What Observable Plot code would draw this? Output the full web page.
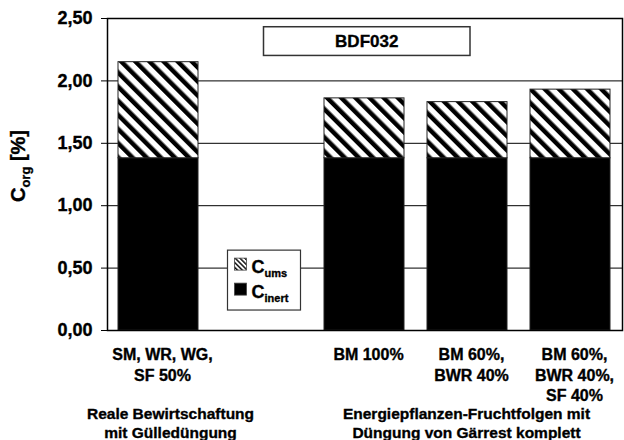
<!DOCTYPE html>
<html><head><meta charset="utf-8">
<script src="https://cdn.jsdelivr.net/npm/d3@7"></script>
<script src="https://cdn.jsdelivr.net/npm/@observablehq/plot@0.6"></script>
<style>body{margin:0;background:#fff} #chart svg{display:block} #chart svg text{stroke:#000;stroke-width:0.35px}</style>
</head><body><div id="chart"></div>
<script>
const categories = ["SM, WR, WG,\nSF 50%", " ", "BM 100%", "BM 60%,\nBWR 40%", "BM 60%,\nBWR 40%,\nSF 40%"];
const cInert = [1.38, null, 1.38, 1.38, 1.38];
const cUms = [0.77, null, 0.48, 0.45, 0.55];
const seriesNames = ["inert", "ums"];
const yTicks = [0, 0.5, 1, 1.5, 2, 2.5];
const gridValues = [0.5, 1, 1.5, 2];
const groupLabels = ["Reale Bewirtschaftung\nmit Gülledüngung", "Energiepflanzen-Fruchtfolgen mit\nDüngung von Gärrest komplett"];
const titleText = "BDF032";

const FONT = "'Liberation Sans', Arial, Helvetica, sans-serif";

const rows = [];
categories.forEach((c, i) => {
  if (cInert[i] != null) rows.push({cat: c, series: "inert", value: cInert[i]});
  if (cUms[i] != null) rows.push({cat: c, series: "ums", value: cUms[i]});
});

const plot = Plot.plot({
  width: 624,
  height: 440,
  marginLeft: 107,
  marginRight: 2,
  marginTop: 18,
  marginBottom: 110,
  style: {fontFamily: FONT, background: "white", color: "black", overflow: "visible"},
  x: {domain: categories, paddingInner: 0.22, paddingOuter: 0.11, axis: null},
  y: {domain: [0, 2.5], axis: null},
  color: {domain: seriesNames, range: ["black", "url(#hatch)"]},
  marks: [
    Plot.ruleY(gridValues, {stroke: "black", strokeWidth: 1}),
    Plot.barY(rows, {x: "cat", y: "value", fill: "series", stroke: "#222", strokeWidth: 1}),
    Plot.frame({stroke: "black", strokeWidth: 1.5}),
    Plot.axisY({ticks: yTicks, tickFormat: d => d.toFixed(2).replace(".", ","), tickSize: 6, tickPadding: 9, fontSize: 18, fontWeight: "bold", label: null}),
    Plot.axisX({tickSize: 0, tickPadding: 15, fontSize: 16, fontWeight: "bold", lineHeight: 1.28, dx: 4, label: null}),
    Plot.text([groupLabels[0]], {x: () => categories[0], text: d => d, frameAnchor: "bottom", dy: 92, dx: 12, lineAnchor: "middle", fontSize: 15.5, fontWeight: "bold", lineHeight: 1.2}),
    Plot.text([groupLabels[1]], {x: () => categories[3], text: d => d, frameAnchor: "bottom", dy: 92, dx: -1, lineAnchor: "middle", fontSize: 15.5, fontWeight: "bold", lineHeight: 1.2})
  ]
});

const svg = d3.select(plot);
const defs = svg.insert("defs", ":first-child");
function hatch(id, period, thick) {
  const p = defs.append("pattern").attr("id", id).attr("patternUnits", "userSpaceOnUse")
    .attr("width", period).attr("height", period).attr("patternTransform", "rotate(-45)");
  p.append("rect").attr("width", period).attr("height", period).attr("fill", "white");
  p.append("rect").attr("width", thick).attr("height", period).attr("fill", "black");
}
hatch("hatch", 10, 4.5);
hatch("hatchSmall", 3.4, 1.4);

const sx = plot.scale("x"), sy = plot.scale("y");
const center = c => sx.apply(c) + sx.bandwidth / 2;

// Y axis title with subscript
const yt = svg.append("text")
  .attr("transform", `translate(25,${(sy.apply(0) + sy.apply(2.5)) / 2 - 8}) rotate(-90)`)
  .attr("text-anchor", "middle").attr("font-size", 20).attr("font-weight", "bold").attr("fill", "black");
yt.append("tspan").text("C");
yt.append("tspan").attr("font-size", 13).attr("dy", 5).text("org");
yt.append("tspan").attr("dy", -5).text(" [%]");

// Title box
const tx0 = center(categories[1]) + 2.5, tx1 = center(categories[3]) + 3;
const ty0 = sy.apply(2.43), ty1 = sy.apply(2.2);
svg.append("rect").attr("x", tx0).attr("y", ty0).attr("width", tx1 - tx0).attr("height", ty1 - ty0)
  .attr("fill", "white").attr("stroke", "#333").attr("stroke-width", 1.5);
svg.append("text").attr("x", (tx0 + tx1) / 2).attr("y", (ty0 + ty1) / 2 + 6)
  .attr("text-anchor", "middle").attr("font-size", 17).attr("font-weight", "bold").text(titleText);

// Legend
const lx = center(categories[1]) - 33.5, ly0 = sy.apply(0.64), ly1 = sy.apply(0.16);
const lg = svg.append("g");
lg.append("rect").attr("x", lx).attr("y", ly0).attr("width", 73).attr("height", ly1 - ly0)
  .attr("fill", "white").attr("stroke", "#333").attr("stroke-width", 1.2);
const legendItems = [["url(#hatchSmall)", "ums"], ["black", "inert"]];
legendItems.forEach(([fill, sub], i) => {
  const yy = ly0 + 8 + i * 25;
  lg.append("rect").attr("x", lx + 7).attr("y", yy).attr("width", 12).attr("height", 12)
    .attr("fill", fill).attr("stroke", "#444").attr("stroke-width", 0.8);
  const t = lg.append("text").attr("x", lx + 24).attr("y", yy + 15).attr("text-anchor", "start")
    .attr("font-size", 18).attr("font-weight", "bold");
  t.append("tspan").text("C");
  t.append("tspan").attr("font-size", 11).attr("dy", 4).text(sub);
});

document.getElementById("chart").appendChild(plot);
</script>
</body></html>
